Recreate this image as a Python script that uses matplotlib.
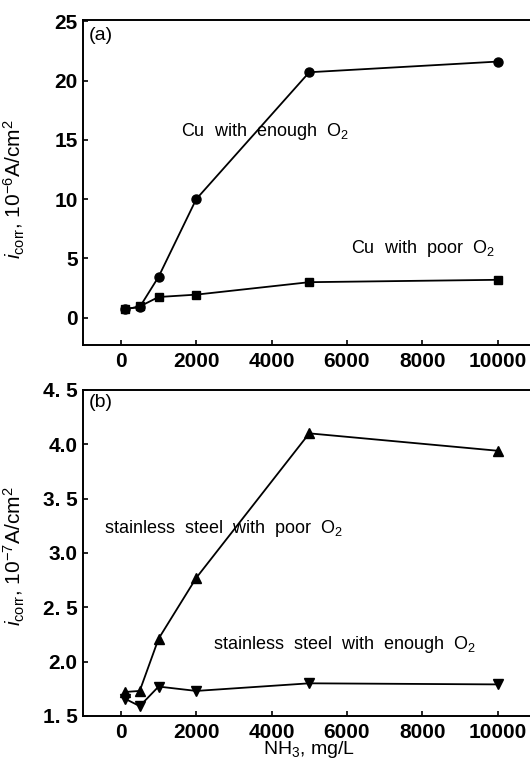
import numpy as np
import matplotlib
matplotlib.use('Agg')
import matplotlib.pyplot as plt

plt.rcParams['font.family'] = ['Liberation Sans', 'DejaVu Sans']
plt.rcParams['mathtext.fontset'] = 'custom'
plt.rcParams['mathtext.rm'] = 'Liberation Sans'
plt.rcParams['mathtext.it'] = 'Liberation Sans:italic'

# NH3 concentration, mg/L
nh3 = [100, 500, 1000, 2000, 5000, 10000]

# (a) Cu, 10^-6 A/cm^2
cu_enough = [0.75, 0.9, 3.45, 10.0, 20.7, 21.6]
cu_poor = [0.7, 0.95, 1.75, 1.95, 3.0, 3.2]

# (b) stainless steel, 10^-7 A/cm^2
ss_poor = [1.72, 1.73, 2.21, 2.77, 4.10, 3.94]
ss_enough = [1.66, 1.59, 1.77, 1.73, 1.80, 1.79]

xticks = [0, 2000, 4000, 6000, 8000, 10000]

fig = plt.figure(figsize=(5.3, 7.6), dpi=100)
ax1 = fig.add_axes([0.157, 0.546, 0.853, 0.4276])
ax2 = fig.add_axes([0.157, 0.058, 0.853, 0.429])

lw = 1.3
ax1.plot(nh3, cu_enough, color='black', lw=lw, marker='o', ms=6.5)
ax1.plot(nh3, cu_poor, color='black', lw=lw, marker='s', ms=6)
ax1.set_ylim(-2.3, 25.1)
ax1.set_yticks([0, 5, 10, 15, 20, 25])
ax1.text(1600, 15.3, 'Cu  with  enough  O$_2$', fontsize=13)
ax1.text(6100, 5.5, 'Cu  with  poor  O$_2$', fontsize=13)
ax1.text(-850, 23.8, '(a)', fontsize=14, va='center')
ax1.set_ylabel('$i_{\\mathrm{corr}}$, 10$^{-6}$A/cm$^2$', fontsize=15)
ax1.yaxis.set_label_coords(-0.125, 0.48)

ax2.plot(nh3, ss_poor, color='black', lw=lw, marker='^', ms=7.5)
ax2.plot(nh3, ss_enough, color='black', lw=lw, marker='v', ms=7.5)
ax2.set_ylim(1.5, 4.5)
ax2.set_yticks([1.5, 2.0, 2.5, 3.0, 3.5, 4.0, 4.5])
ax2.set_yticklabels(['1. 5', '2.0', '2. 5', '3.0', '3. 5', '4.0', '4. 5'])
ax2.text(-450, 3.18, 'stainless  steel  with  poor  O$_2$', fontsize=13)
ax2.text(2450, 2.12, 'stainless  steel  with  enough  O$_2$', fontsize=13)
ax2.text(-850, 4.38, '(b)', fontsize=14, va='center')
ax2.set_ylabel('$i_{\\mathrm{corr}}$, 10$^{-7}$A/cm$^2$', fontsize=15)
ax2.yaxis.set_label_coords(-0.125, 0.49)
ax2.set_xlabel('NH$_3$, mg/L', fontsize=14, labelpad=-2)

for ax in (ax1, ax2):
    ax.set_xlim(-1000, 11000)
    ax.set_xticks(xticks)
    ax.tick_params(direction='in', length=3.5, width=1.2, labelsize=15, pad=4)
    ax.tick_params(axis='x', pad=5)
    for lab in ax.get_xticklabels() + ax.get_yticklabels():
        lab.set_fontweight('bold')
    for s in ax.spines.values():
        s.set_linewidth(1.4)

fig.savefig('out.png', dpi=100)
